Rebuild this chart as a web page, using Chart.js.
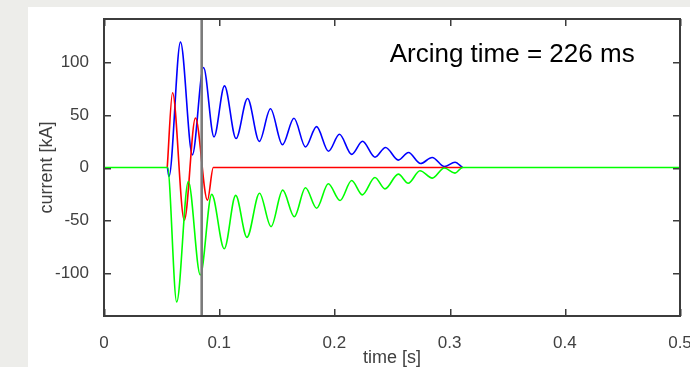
<!DOCTYPE html>
<html>
<head>
<meta charset="utf-8">
<script src="https://cdn.jsdelivr.net/npm/chart.js@4.4.1/dist/chart.umd.min.js"></script>
<style>
    html, body { margin: 0; padding: 0; }
    body { width: 690px; height: 367px; background: #ededea; position: relative; overflow: hidden; }
    #panel { position: absolute; left: 28px; top: 7px; right: 0; bottom: 0; background: #ffffff; }
    #currentChart { position: absolute; left: 0; top: 0; }
</style>
</head>
<body>
<div id="panel"></div>
<canvas id="currentChart" width="690" height="367"></canvas>
<script>
// ============================================
// Phase currents during arcing
// ============================================

// time [s] and current [kA] at start, peaks, troughs and end of each trace
const redT  = [0.0549, 0.0595, 0.0697, 0.0794, 0.0898, 0.0949, 0.3112];
const redI  = [0, 71, -50, 47, -31, 0, 0];

const blueT = [0.0551, 0.0564, 0.0664, 0.0767, 0.0864, 0.0955, 0.1046, 0.1146, 0.1246,
               0.1348, 0.1445, 0.1549, 0.1649, 0.1749, 0.1845, 0.1949, 0.2044, 0.2150, 0.2244,
               0.2352, 0.2444, 0.2555, 0.2643, 0.2747, 0.2849, 0.2956, 0.3047, 0.3112];
const blueI = [0, -8.6, 119, 12, 95, 29, 77.5, 27.5, 65.5,
               24.8, 55.8, 21.6, 46.7, 19.5, 38.8, 15.5, 31.5, 12.5, 24.9,
               9.8, 19, 7, 14.2, 3.8, 9.5, 0.8, 5, 0];

const greenT = [0, 0.0551, 0.0631, 0.0732, 0.0836, 0.0935, 0.1044, 0.1143, 0.1241, 0.1350,
                0.1450, 0.1551, 0.1652, 0.1749, 0.1846, 0.1947, 0.2049, 0.2150, 0.2242, 0.2352,
                0.2439, 0.2555, 0.2641, 0.2743, 0.2850, 0.2954, 0.3047, 0.3112, 0.5];
const greenI = [0, 0, -127.6, -13.3, -102, -25.5, -77.2, -26.5, -66.3, -24.4,
                -56.2, -21.5, -46.7, -19.2, -38.7, -15.5, -31.4, -12.4, -26, -9.5,
                -20.3, -6.3, -14.9, -3.1, -10.1, -0.5, -5.3, 0, 0];

// arc extinction marker
const arcT = [0.0848, 0.0848];
const arcI = [-141, 141];

const xTicks = [0, 0.1, 0.2, 0.3, 0.4, 0.5];
const xTickLabels = ['0', '0.1', '0.2', '0.3', '0.4', '0.5'];
const yTicks = [-100, -50, 0, 50, 100];
const yTickLabels = ['-100', '-50', '0', '50', '100'];

const annotationText = 'Arcing time = 226 ms';
const annotationAt = [0.248, 100];

const axisColor = '#404040';
const boxColor = '#3c3c3c';
const fontFamily = '"Liberation Sans", Arial, Helvetica, sans-serif';

function toPoints(ts, vs) {
    return ts.map((t, i) => ({ x: t, y: vs[i] }));
}

// MATLAB-like box with inward ticks on all four sides + text label
const boxPlugin = {
    id: 'matlabBox',
    afterDraw(chart) {
        const c = chart.ctx;
        const a = chart.chartArea;
        const sx = chart.scales.x;
        const sy = chart.scales.y;
        const len = 7;
        const L = Math.round(a.left), T = Math.round(a.top);
        const R = Math.round(a.right), B = Math.round(a.bottom);

        c.save();
        c.fillStyle = boxColor;
        // frame, 2px like the reference
        c.fillRect(L - 1, T - 1, R - L + 2, 2);
        c.fillRect(L - 1, B - 1, R - L + 2, 2);
        c.fillRect(L - 1, T - 1, 2, B - T + 2);
        c.fillRect(R - 1, T - 1, 2, B - T + 2);
        // inward ticks
        xTicks.forEach(v => {
            const px = Math.round(sx.getPixelForValue(v));
            c.fillRect(px, B - len, 1.5, len);
            c.fillRect(px, T, 1.5, len);
        });
        yTicks.forEach(v => {
            const py = Math.round(sy.getPixelForValue(v));
            c.fillRect(L, py, len, 1.5);
            c.fillRect(R - len, py, len, 1.5);
        });

        // annotation
        c.fillStyle = '#000000';
        c.font = '26px ' + fontFamily;
        c.textAlign = 'left';
        c.textBaseline = 'alphabetic';
        c.fillText(annotationText, sx.getPixelForValue(annotationAt[0]), sy.getPixelForValue(annotationAt[1]));
        c.restore();
    }
};

const lineStyle = {
    borderWidth: 1.6,
    pointRadius: 0,
    fill: false,
    cubicInterpolationMode: 'monotone'
};

const ctx = document.getElementById('currentChart').getContext('2d');

new Chart(ctx, {
    type: 'line',
    data: {
        datasets: [
            {
                label: 'arc',
                data: toPoints(arcT, arcI),
                borderColor: '#7b7b7b',
                borderWidth: 2.6,
                pointRadius: 0,
                tension: 0,
                order: 0
            },
            { label: 'phase C', data: toPoints(greenT, greenI), borderColor: '#00ff00', ...lineStyle, order: 1 },
            { label: 'phase A', data: toPoints(redT, redI), borderColor: '#ff0000', ...lineStyle, order: 2 },
            { label: 'phase B', data: toPoints(blueT, blueI), borderColor: '#0000ff', ...lineStyle, order: 3 }
        ]
    },
    options: {
        responsive: false,
        animation: false,
        events: [],
        layout: {
            padding: { top: 19, right: 10, left: 0, bottom: 0 }
        },
        plugins: {
            legend: { display: false },
            tooltip: { enabled: false }
        },
        scales: {
            x: {
                type: 'linear',
                min: 0,
                max: 0.5,
                grid: { display: false },
                border: { display: false },
                afterBuildTicks: scale => {
                    scale.ticks = xTicks.map(v => ({ value: v }));
                },
                afterFit: scale => {
                    scale.height = 51;
                    scale.paddingLeft = 0;
                    scale.paddingRight = 0;
                },
                ticks: {
                    color: axisColor,
                    padding: 9,
                    maxRotation: 0,
                    font: { size: 17, family: fontFamily },
                    callback: (value, index) => xTickLabels[index]
                },
                title: {
                    display: true,
                    text: 'time [s]',
                    color: axisColor,
                    padding: { top: 0, bottom: 0 },
                    font: { size: 18, family: fontFamily, lineHeight: 1 }
                }
            },
            y: {
                min: -141,
                max: 141,
                grid: { display: false },
                border: { display: false },
                afterBuildTicks: scale => {
                    scale.ticks = yTicks.map(v => ({ value: v }));
                },
                afterFit: scale => {
                    scale.width = 104;
                },
                ticks: {
                    color: axisColor,
                    padding: 7,
                    font: { size: 17, family: fontFamily },
                    callback: (value, index) => yTickLabels[index]
                },
                title: {
                    display: true,
                    text: 'current [kA]',
                    color: axisColor,
                    padding: { top: 38, bottom: 0 },
                    font: { size: 18, family: fontFamily, lineHeight: 1 }
                }
            }
        }
    },
    plugins: [boxPlugin]
});
</script>
</body>
</html>
